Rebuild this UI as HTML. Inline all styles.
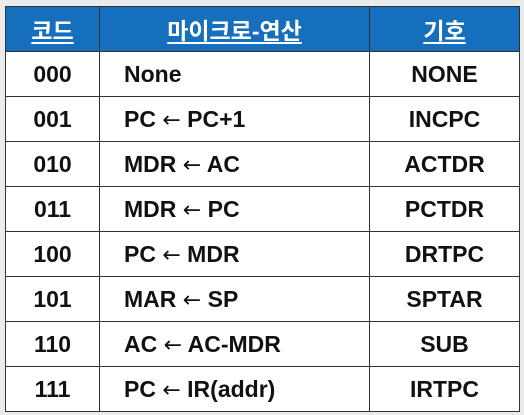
<!DOCTYPE html>
<html><head><meta charset="utf-8"><style>
html,body{margin:0;padding:0}
body{width:524px;height:415px;background:#ebebeb;position:relative;overflow:hidden;font-family:"Liberation Sans","Noto Sans CJK KR",sans-serif}
table{position:absolute;left:5px;top:6px;width:515px;height:401px;border-collapse:collapse;background:#fff;table-layout:fixed}
td,th{border:1.5px solid #333;font-weight:bold;font-size:23px;color:#111;padding:0}
th{background:#166fbc;color:#fff;height:44px;text-decoration:underline;text-underline-offset:3px}
td{height:44px}
.c1{width:93px;text-align:center}
.c2{width:245px;text-align:left;padding-left:24px}
.c3{text-align:center}
.ar{font-family:"DejaVu Sans",sans-serif;font-weight:normal;font-size:22px}
</style></head><body>
<table>
<tr><th class="c1">코드</th><th class="c2" style="text-align:center;padding-left:0;width:269px">마이크로-연산</th><th class="c3">기호</th></tr>
<tr><td class="c1">000</td><td class="c2">None</td><td class="c3">NONE</td></tr>
<tr><td class="c1">001</td><td class="c2">PC <span class="ar">←</span> PC+1</td><td class="c3">INCPC</td></tr>
<tr><td class="c1">010</td><td class="c2">MDR <span class="ar">←</span> AC</td><td class="c3">ACTDR</td></tr>
<tr><td class="c1">011</td><td class="c2">MDR <span class="ar">←</span> PC</td><td class="c3">PCTDR</td></tr>
<tr><td class="c1">100</td><td class="c2">PC <span class="ar">←</span> MDR</td><td class="c3">DRTPC</td></tr>
<tr><td class="c1">101</td><td class="c2">MAR <span class="ar">←</span> SP</td><td class="c3">SPTAR</td></tr>
<tr><td class="c1">110</td><td class="c2">AC <span class="ar">←</span> AC-MDR</td><td class="c3">SUB</td></tr>
<tr><td class="c1">111</td><td class="c2">PC <span class="ar">←</span> IR(addr)</td><td class="c3">IRTPC</td></tr>
</table>
</body></html>
